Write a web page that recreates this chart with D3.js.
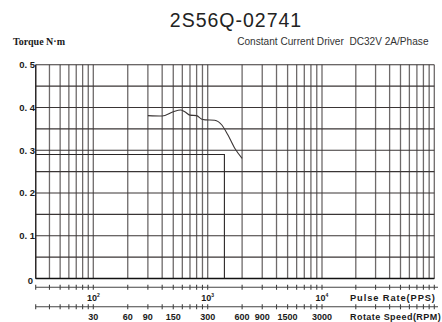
<!DOCTYPE html>
<html>
<head>
<meta charset="utf-8">
<script src="https://cdn.jsdelivr.net/npm/d3@7"></script>
<style>
  html, body { margin: 0; padding: 0; background: #fff; }
  svg { display: block; }
  .bold { font-family: "Liberation Sans", Arial, sans-serif; font-weight: bold; fill: #1a1a1a; }
</style>
</head>
<body>
<svg id="chart" width="442" height="322"></svg>
<script>
// Pull-out torque curve (pulse rate in PPS, torque in N·m)
const pulseRate = [300, 400, 500, 580, 630, 700, 800, 880, 950, 1150, 1330, 1500, 1730, 2000];
const torque    = [0.381, 0.380, 0.390, 0.394, 0.390, 0.382, 0.381, 0.373, 0.371, 0.370, 0.359, 0.336, 0.304, 0.281];

// Starting-frequency bound: horizontal at torque level up to the rate, then down to zero
const startRate = 1400;
const startTorque = 0.29;

// Axis ticks
const yTicks = [0, 0.1, 0.2, 0.3, 0.4, 0.5];
const yTickLabels = ["0", "0. 1", "0. 2", "0. 3", "0. 4", "0. 5"];
const yMinorStep = 0.05;
const decades = [10, 100, 1000, 10000];
const pulseLabelValues = [100, 1000, 10000];
const pulseLabelExponents = ["2", "3", "4"];
const rpmLabels = [30, 60, 90, 150, 300, 600, 900, 1500, 3000];
const ppsPerRpm = 200 / 60; // 1.8° step motor, 200 steps per revolution

const svg = d3.select("#chart");

// Logarithmic pulse-rate scale, piecewise per decade
const x = d3.scaleLog()
  .domain([30, 100, 1000, 10000, 100000])
  .range([35.7, 93.3, 207.7, 322, 434.3]);
const y = d3.scaleLinear().domain([0, 0.5]).range([278.5, 64.7]);

// Vertical grid values: 30..90, 100..900, ... up to 1e5
const gridX = [];
decades.forEach(d => { for (let k = 1; k <= 9; k++) { const v = k * d; if (v >= 30) gridX.push(v); } });
gridX.push(100000);

const gridY = d3.range(0, 0.5 + 1e-9, yMinorStep);

const g = svg.append("g");

// vertical grid
g.selectAll("line.vg").data(gridX).join("line")
  .attr("x1", d => x(d)).attr("x2", d => x(d))
  .attr("y1", y(0.5)).attr("y2", y(0))
  .attr("stroke", "#6e6a6a").attr("stroke-width", 1.3);

// horizontal grid
g.selectAll("line.hg").data(gridY).join("line")
  .attr("x1", x(30)).attr("x2", x(100000))
  .attr("y1", d => y(d)).attr("y2", d => y(d))
  .attr("stroke", "#3a3535").attr("stroke-width", 1.1);

// frame: left edge and baseline
g.append("line").attr("x1", x(30)).attr("x2", x(30)).attr("y1", y(0.5)).attr("y2", y(0))
  .attr("stroke", "#2a2626").attr("stroke-width", 1.3);
g.append("line").attr("x1", x(30)).attr("x2", x(100000)).attr("y1", y(0)).attr("y2", y(0))
  .attr("stroke", "#111").attr("stroke-width", 1.6);

// starting-frequency bound
g.append("path")
  .attr("d", d3.line()([[x(30), y(startTorque)], [x(startRate), y(startTorque)], [x(startRate), y(0)]]))
  .attr("fill", "none").attr("stroke", "#2a2626").attr("stroke-width", 1.1);

// torque curve
const curve = d3.line()
  .x(d => x(d[0])).y(d => y(d[1]))
  .curve(d3.curveMonotoneX);
g.append("path")
  .attr("d", curve(pulseRate.map((p, i) => [p, torque[i]])))
  .attr("fill", "none").attr("stroke", "#3a3535").attr("stroke-width", 1.1);

// y tick labels
g.selectAll("text.yl").data(yTicks).join("text")
  .attr("class", "bold")
  .attr("x", (d, i) => i === 0 ? 33 : 35)
  .attr("y", (d, i) => y(d) + (i === 0 ? 5.5 : 3.3))
  .attr("text-anchor", "end")
  .attr("font-size", 9.5)
  .text((d, i) => yTickLabels[i]);

// Two scale bars below the plot: pulse rate and rotate speed
const axis1Y = 287.3, axis2Y = 306.8;
[axis1Y, axis2Y].forEach(ay => {
  g.append("line").attr("x1", x(30)).attr("x2", 438).attr("y1", ay).attr("y2", ay)
    .attr("stroke", "#444").attr("stroke-width", 1.1);
  g.selectAll(null).data(gridX).join("line")
    .attr("x1", d => x(d)).attr("x2", d => x(d))
    .attr("y1", ay - 2.5).attr("y2", ay + 2.5)
    .attr("stroke", "#444").attr("stroke-width", 1.1);
});

// pulse-rate decade labels
const pl = g.selectAll("text.pl").data(pulseLabelValues).join("text")
  .attr("class", "bold")
  .attr("x", d => x(d)).attr("y", 300.5)
  .attr("text-anchor", "middle")
  .attr("font-size", 9);
pl.append("tspan").text("10");
pl.append("tspan").attr("font-size", 5).attr("dy", -3.5).text((d, i) => pulseLabelExponents[i]);

g.append("text").attr("class", "bold")
  .attr("x", 350).attr("y", 300.5).attr("font-size", 9.3)
  .attr("letter-spacing", 0.9)
  .text("Pulse Rate(PPS)");

// rotate-speed labels
g.selectAll("text.rl").data(rpmLabels).join("text")
  .attr("class", "bold")
  .attr("x", d => x(d * ppsPerRpm)).attr("y", 320)
  .attr("text-anchor", "middle")
  .attr("font-size", 9)
  .text(d => d);

g.append("text").attr("class", "bold")
  .attr("x", 350).attr("y", 320).attr("font-size", 9)
  .attr("letter-spacing", 0.45)
  .text("Rotate Speed(RPM)");

// title and captions
svg.append("text")
  .attr("x", 236).attr("y", 26.5)
  .attr("text-anchor", "middle")
  .attr("font-family", "Liberation Sans, Arial, sans-serif")
  .attr("font-size", 19.5).attr("letter-spacing", 1)
  .attr("fill", "#222")
  .text("2S56Q-02741");

svg.append("text")
  .attr("x", 13).attr("y", 45)
  .attr("font-family", "Liberation Serif, Times New Roman, serif")
  .attr("font-weight", "bold").attr("font-size", 10)
  .attr("fill", "#1a1a1a")
  .text("Torque N·m");

svg.append("text")
  .attr("x", 428.5).attr("y", 45)
  .attr("text-anchor", "end")
  .attr("font-family", "Liberation Sans, Arial, sans-serif")
  .attr("font-size", 10.1)
  .attr("fill", "#333")
  .style("white-space", "pre")
  .text("Constant Current Driver  DC32V 2A/Phase");
</script>
</body>
</html>
